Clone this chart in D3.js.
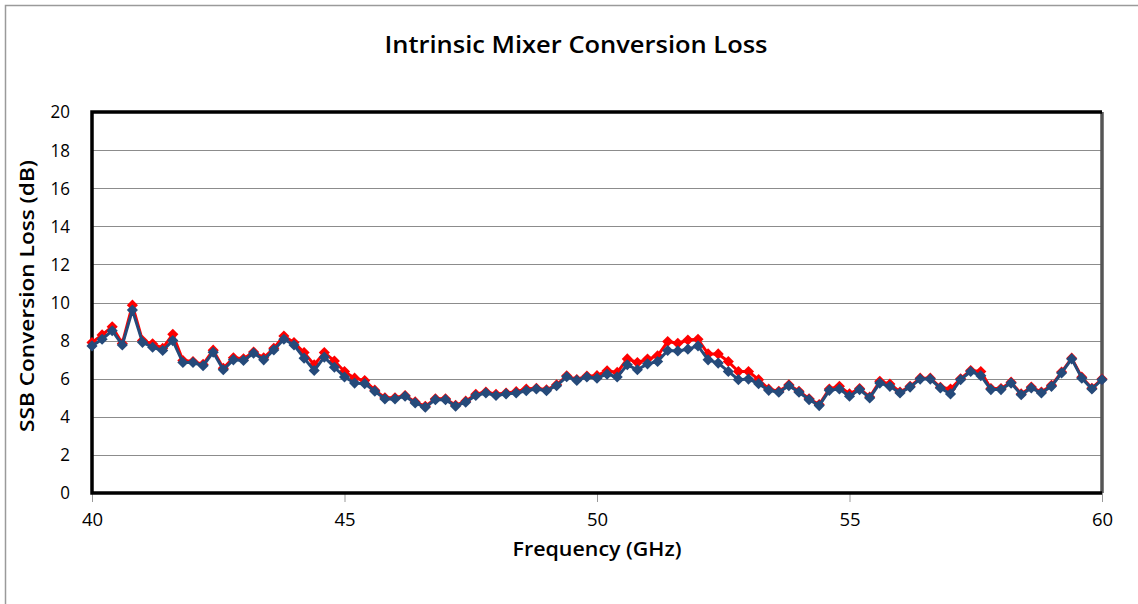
<!DOCTYPE html>
<html><head><meta charset="utf-8">
<script src="https://cdn.jsdelivr.net/npm/d3@7"></script>
<style>body{margin:0;background:#fff}svg{display:block}</style>
</head><body>
<svg id="c" width="1138" height="604"></svg>
<script>
const freqStart = 40, freqStep = 0.2;
const blueLoss = [7.72,8.07,8.52,7.77,9.6,7.91,7.65,7.48,8.0,6.85,6.85,6.68,7.39,6.47,6.99,6.96,7.34,6.99,7.51,8.07,7.77,7.08,6.43,7.13,6.6,6.09,5.77,5.74,5.34,4.94,4.94,5.08,4.73,4.5,4.9,4.9,4.56,4.77,5.12,5.25,5.12,5.2,5.25,5.37,5.46,5.37,5.63,6.1,5.91,6.09,6.03,6.24,6.09,6.73,6.47,6.78,6.9,7.48,7.46,7.55,7.72,6.99,6.82,6.38,5.95,5.98,5.74,5.39,5.29,5.63,5.29,4.9,4.59,5.39,5.46,5.08,5.43,4.99,5.77,5.6,5.25,5.56,5.98,5.98,5.51,5.2,5.95,6.38,6.16,5.43,5.43,5.77,5.16,5.51,5.25,5.6,6.3,7.04,6.03,5.46,5.95];
const redLoss = [7.9,8.3,8.73,7.85,9.86,8.0,7.83,7.6,8.33,6.95,6.9,6.75,7.5,6.55,7.1,7.05,7.4,7.1,7.6,8.24,7.9,7.37,6.73,7.37,6.93,6.38,6.03,5.9,5.4,5.0,5.0,5.12,4.78,4.55,4.95,4.95,4.6,4.82,5.18,5.3,5.18,5.25,5.32,5.46,5.5,5.42,5.68,6.15,5.96,6.14,6.16,6.42,6.33,7.04,6.85,7.03,7.2,7.95,7.86,8.03,8.07,7.3,7.3,6.9,6.38,6.38,5.95,5.45,5.34,5.68,5.34,4.95,4.64,5.46,5.6,5.2,5.48,5.04,5.86,5.72,5.3,5.6,6.03,6.03,5.55,5.46,6.0,6.43,6.38,5.48,5.48,5.82,5.2,5.56,5.3,5.65,6.35,7.08,6.08,5.5,5.98];
const xTicks = [40,45,50,55,60];
const yTicks = [0,2,4,6,8,10,12,14,16,18,20];
const title = "Intrinsic Mixer Conversion Loss";
const xTitle = "Frequency (GHz)";
const yTitle = "SSB Conversion Loss (dB)";

const svg = d3.select("#c");
const font = "'Open Sans', 'Noto Sans', sans-serif";
const L = 92, R = 1102, T = 112, B = 493;
const x = d3.scaleLinear().domain([40,60]).range([L,R]);
const y = d3.scaleLinear().domain([0,20]).range([B,T]);

svg.append("rect").attr("x",5.5).attr("y",5.5).attr("width",1200).attr("height",700)
  .attr("fill","#fff").attr("stroke","#9a9a9a").attr("stroke-width",1.5);

svg.append("text").attr("x",576).attr("y",53).attr("text-anchor","middle")
  .attr("font-family",font).attr("font-weight","600").attr("font-size",23).attr("fill","#000")
  .attr("textLength",383).attr("lengthAdjust","spacingAndGlyphs").text(title);

// gridlines
svg.append("g").selectAll("line").data(yTicks.filter(d=>d>0&&d<20)).join("line")
  .attr("x1",L).attr("x2",R).attr("y1",d=>Math.round(y(d))+0.5).attr("y2",d=>Math.round(y(d))+0.5)
  .attr("stroke","#8c8c8c").attr("stroke-width",1.2);

// y axis labels
const ya = svg.append("g").attr("transform",`translate(${L},0)`)
  .call(d3.axisLeft(y).tickValues(yTicks).tickSize(0).tickPadding(22));
ya.select(".domain").remove();
ya.selectAll("text").attr("font-family",font).attr("font-size",18.5).attr("fill","#000")
  .attr("transform","scale(0.92,1)").attr("x",-22/0.92);

// x axis
const xa = svg.append("g").attr("transform",`translate(0,${B})`)
  .call(d3.axisBottom(x).tickValues(xTicks).tickSize(9).tickPadding(11));
xa.select(".domain").remove();
xa.selectAll("line").attr("stroke","#999");
xa.selectAll("text").attr("font-family",font).attr("font-size",18.5).attr("fill","#000");

// frame
svg.append("line").attr("x1",R).attr("x2",R).attr("y1",T).attr("y2",B).attr("stroke","#555").attr("stroke-width",3.5);
svg.append("path").attr("d",`M${R},${T}H${L}V${B}H${R}`).attr("fill","none").attr("stroke","#000").attr("stroke-width",3.5);

const line = d3.line().x((d,i)=>x(freqStart+i*freqStep)).y(d=>y(d));
const diamond = d3.symbol().type(d3.symbolSquare).size(62);

function series(vals,color){
  const g = svg.append("g");
  g.append("path").datum(vals).attr("d",line).attr("fill","none").attr("stroke",color).attr("stroke-width",3).attr("stroke-linejoin","round");
  g.selectAll("path.m").data(vals).join("path").attr("class","m")
    .attr("transform",(d,i)=>`translate(${x(freqStart+i*freqStep)},${y(d)}) rotate(45)`)
    .attr("d",diamond).attr("fill",color);
}
series(redLoss,"#ff0000");
series(blueLoss,"#254a7a");

svg.append("text").attr("x",597).attr("y",556).attr("text-anchor","middle")
  .attr("font-family",font).attr("font-weight","600").attr("font-size",19).attr("fill","#000")
  .attr("textLength",169).attr("lengthAdjust","spacingAndGlyphs").text(xTitle);
svg.append("text").attr("transform","translate(34,296) rotate(-90)").attr("text-anchor","middle")
  .attr("font-family",font).attr("font-weight","600").attr("font-size",19).attr("fill","#000")
  .attr("textLength",272).attr("lengthAdjust","spacingAndGlyphs").text(yTitle);
</script>
</body></html>
